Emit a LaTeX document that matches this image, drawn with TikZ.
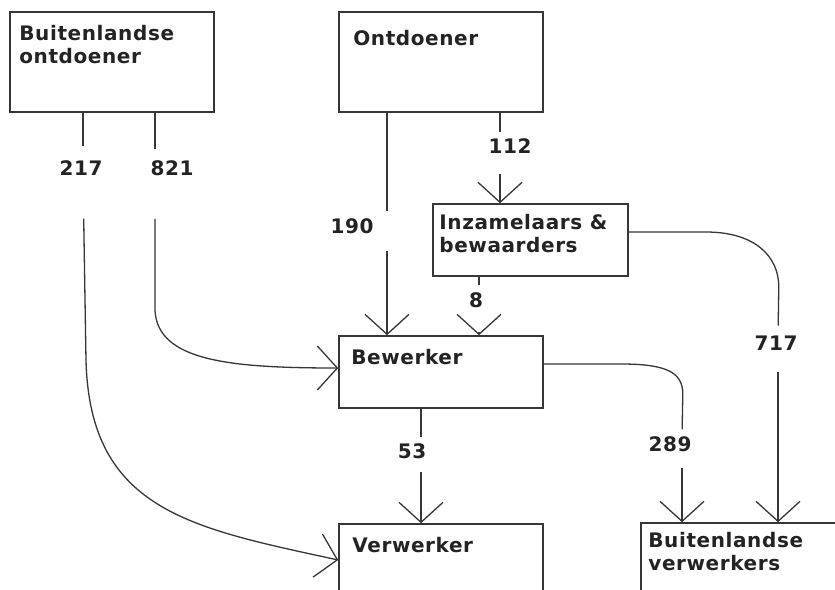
\documentclass[tikz,border=0pt]{standalone}
\usepackage{fontspec}
\setmainfont{DejaVu Sans}[LetterSpace=3]
\usepackage{tikz}
\usetikzlibrary{arrows.meta, positioning, calc}
\definecolor{inkgray}{RGB}{35,35,35}
\definecolor{linegray}{RGB}{55,55,55}

\begin{document}
\begin{tikzpicture}[x=1pt, y=-1pt,
  box/.style={draw=linegray, line width=1.6pt, rectangle, inner sep=0pt},
  txt/.style={inner sep=0pt, align=left, text=inkgray, font=\fontsize{20}{23}\selectfont\bfseries},
  num/.style={inner sep=0pt, text=inkgray, font=\fontsize{20}{23}\selectfont\bfseries},
  seg/.style={draw=linegray, line width=1.3pt},
  flow/.style={seg, -{Straight Barb[length=20pt, width=44pt]}}]
\useasboundingbox (0,0) rectangle (835,589);
\fill[white] (0,0) rectangle (835,589);
\clip (0,0) rectangle (835,589);

% Boxes
\node[box, minimum width=204pt, minimum height=100pt] (bo) at (112,62) {};
\node[box, minimum width=204pt, minimum height=100pt] (od) at (441,62) {};
\node[box, minimum width=195pt, minimum height=72pt] (inz) at (530.5,240) {};
\node[box, minimum width=204pt, minimum height=72pt] (bew) at (441,372) {};
\node[box, minimum width=204pt, minimum height=72pt] (vw) at (441,560) {};
\node[box, minimum width=204pt, minimum height=72pt] (bv) at (743,559) {};

% Box texts
\node[txt, below right=13.5pt and 10pt of bo.north west] (bo-t) {Buitenlandse\\ontdoener};
\node[txt, below right=18.5pt and 15pt of od.north west] (od-t) {Ontdoener};
\node[txt, below right=10.5pt and 7pt of inz.north west] (inz-t) {Inzamelaars \&\\bewaarders};
\node[txt, below right=13.5pt and 13pt of bew.north west] (bew-t) {Bewerker};
\node[txt, below right=13.5pt and 14pt of vw.north west] (vw-t) {Verwerker};
\node[txt, below right=9.5pt and 8pt of bv.north west] (bv-t) {Buitenlandse\\verwerkers};

% Amounts
\node[num] (n217) at (81,168) {217};
\node[num] (n821) at (172,168) {821};
\node[num] (n190) at (352,226) {190};
\node[num] (n112) at (510,146) {112};
\node[num] (n8) at (476,300) {8};
\node[num] (n717) at (776,343) {717};
\node[num] (n289) at (670,444) {289};
\node[num] (n53) at (412,451) {53};

% Line positions
\coordinate (c217) at ([xshift=-29pt]bo.south);
\coordinate (c821) at ([xshift=43pt]bo.south);
\coordinate (c190) at ([xshift=-54pt]od.south);
\coordinate (c112) at ([xshift=59pt]od.south);
\coordinate (c8) at ([xshift=-51.5pt]inz.south);
\coordinate (c53) at ([xshift=-20pt]bew.south);
\coordinate (c289) at ([xshift=-61pt]bv.north);
\coordinate (c717) at ([xshift=35pt]bv.north);

% Buitenlandse ontdoener -> Verwerker
\draw[seg, shorten >=14pt] (c217) -- (c217 |- n217.north);
\draw[flow, shorten <=43pt] (c217 |- n217.south) -- ++(3,185)
  .. controls +(4,150) and +(-147,-32) .. (vw.west);

% Buitenlandse ontdoener -> Bewerker
\draw[seg, shorten >=11pt] (c821) -- (c821 |- n821.north);
\draw[flow, shorten <=43pt] (c821 |- n821.south) -- ++(0,135)
  .. controls +(3,50) and +(-109,0) .. ([yshift=4pt]bew.west);

% Ontdoener -> Bewerker
\draw[seg, shorten >=7pt] (c190) -- (c190 |- n190.north);
\draw[flow, shorten <=17pt] (c190 |- n190.south) -- (c190 |- bew.north);

% Ontdoener -> Inzamelaars
\draw[seg, shorten >=6pt] (c112) -- (c112 |- n112.north);
\draw[flow, shorten <=20pt] (c112 |- n112.south) -- (c112 |- inz.north);

% Inzamelaars -> Bewerker
\draw[seg, shorten >=7pt] (c8) -- (c8 |- n8.north);
\draw[flow, shorten <=24pt] (c8 |- n8.south) -- (c8 |- bew.north);

% Bewerker -> Verwerker
\draw[seg, shorten >=6pt] (c53) -- (c53 |- n53.north);
\draw[flow, shorten <=13pt] (c53 |- n53.south) -- (c53 |- vw.north);

% Bewerker -> Buitenlandse verwerkers
\draw[seg, shorten >=7pt] ([yshift=8pt]bew.east) -- ++(77,0)
  .. controls +(45,0) and +(0,-22) .. ++(62,30) -- (c289 |- n289.north);
\draw[flow, shorten <=16pt] (c289 |- n289.south) -- (c289);

% Inzamelaars -> Buitenlandse verwerkers
\draw[seg, shorten >=10pt] ([yshift=8pt]inz.east) -- ++(77,0)
  .. controls +(50,0) and +(0,-30) .. ++(73,55) -- (c717 |- n717.north);
\draw[flow, shorten <=22pt] (c717 |- n717.south) -- (c717);
\end{tikzpicture}
\end{document}
